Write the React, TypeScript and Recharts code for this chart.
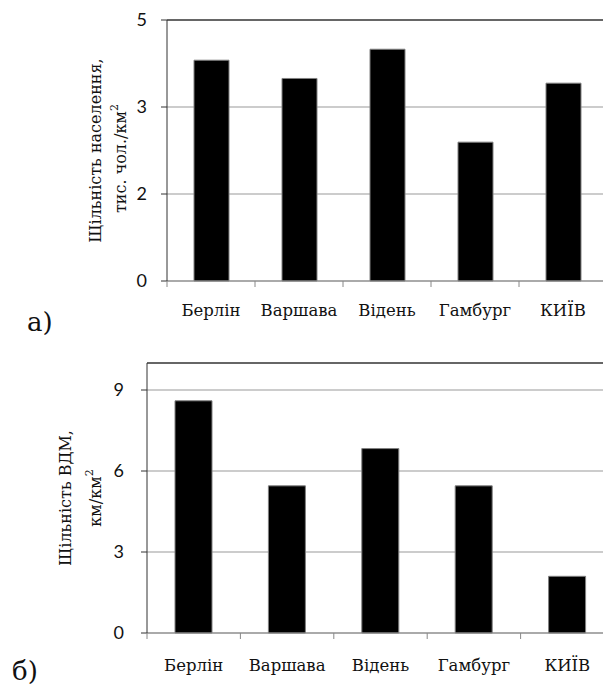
import { Bar, BarChart, CartesianGrid, ReferenceLine, XAxis, YAxis } from 'recharts'

// values
const CITIES = ['Берлін', 'Варшава', 'Відень', 'Гамбург', 'КИЇВ']
const POP_DENSITY = [4.23, 3.88, 4.44, 2.66, 3.79]
const POP_TICKS = [0, 5 / 3, 10 / 3, 5]
const ROAD_DENSITY = [8.6, 5.45, 6.83, 5.45, 2.1]
const ROAD_TICKS = [0, 3, 6, 9]

// only DejaVu Serif has Cyrillic serif glyphs in the sandbox
const SERIF = '"DejaVu Serif", serif'
const SANS = 'Lato, "Open Sans", sans-serif'
const INK = '#111'
const TICK_SIZE = 6
const TICK_MARGIN = 0
const X_AXIS_H = 40

interface TitleLine {
  text: string
  sup?: string
  dx: number
  dy: number
}

function AxisTitle({ viewBox, lines }: { viewBox?: any; lines: TitleLine[] }) {
  if (!viewBox) return null
  const cy = viewBox.y + viewBox.height / 2
  return (
    <g>
      {lines.map((ln, i) => {
        const tx = viewBox.x + ln.dx
        const ty = cy + ln.dy
        return (
          <text
            key={i}
            x={tx}
            y={ty}
            transform={`rotate(-90 ${tx} ${ty})`}
            textAnchor="middle"
            dominantBaseline="central"
            style={{ fontFamily: SERIF, fontSize: 16 }}
            fill={INK}
          >
            {ln.text}
            {ln.sup && (
              <tspan dy={-6} style={{ fontSize: 11 }}>
                {ln.sup}
              </tspan>
            )}
          </text>
        )
      })}
    </g>
  )
}

function CityTick(props: any) {
  const { x, y, payload, band, labelDy } = props
  const axisY = y - TICK_SIZE - TICK_MARGIN
  const edge = x - band / 2
  return (
    <g>
      <line x1={edge} x2={edge} y1={axisY} y2={axisY + 6} stroke="#888" />
      <text
        x={x}
        y={axisY + labelDy}
        textAnchor="middle"
        dominantBaseline="central"
        style={{ fontFamily: SERIF, fontSize: 16.5 }}
        fill={INK}
      >
        {payload.value}
      </text>
    </g>
  )
}

interface PanelProps {
  values: number[]
  max: number
  ticks: number[]
  top: number
  height: number
  margin: { top: number; right: number; bottom: number; left: number }
  yAxisWidth: number
  yTickMargin: number
  labelDy: number
  barSize: number
  title: TitleLine[]
}

const CHART_W = 640

function Panel({ values, max, ticks, top, height, margin, yAxisWidth, yTickMargin, labelDy, barSize, title }: PanelProps) {
  const data = CITIES.map((c, i) => ({ city: c, value: values[i] }))
  const plotW = CHART_W - margin.left - margin.right - yAxisWidth
  const band = plotW / CITIES.length
  return (
    <div style={{ position: 'absolute', left: 0, top }}>
      <BarChart width={CHART_W} height={height} data={data} margin={margin}>
        <CartesianGrid stroke="#999" vertical={false} />
        <XAxis
          dataKey="city"
          height={X_AXIS_H}
          axisLine={{ stroke: '#888' }}
          tickLine={false}
          tickSize={TICK_SIZE}
          tickMargin={TICK_MARGIN}
          interval={0}
          tick={(p: any) => <CityTick {...p} band={band} labelDy={labelDy} />}
        />
        <YAxis
          width={yAxisWidth}
          domain={[0, max]}
          ticks={ticks}
          allowDecimals
          tickFormatter={(v: number) => String(Math.round(v))}
          tick={{ fontFamily: SANS, fontSize: 18, fill: INK }}
          tickSize={TICK_SIZE}
          tickMargin={yTickMargin}
          axisLine={{ stroke: '#333' }}
          tickLine={{ stroke: '#333' }}
          label={{ content: (p: any) => <AxisTitle viewBox={p.viewBox} lines={title} /> }}
        />
        <ReferenceLine y={max} stroke="#444" strokeWidth={1.5} />
        <Bar
          dataKey="value"
          fill="#000"
          stroke="#808080"
          strokeWidth={1}
          barSize={barSize}
          isAnimationActive={false}
        />
      </BarChart>
    </div>
  )
}

const tagStyle = {
  position: 'absolute' as const,
  fontFamily: SERIF,
  fontSize: 26,
  lineHeight: '26px',
  color: INK,
}

export default function App() {
  return (
    <div
      style={{
        position: 'absolute',
        left: 0,
        top: 0,
        width: 603,
        height: 689,
        overflow: 'hidden',
        background: '#fff',
      }}
    >
      <Panel
        values={POP_DENSITY}
        max={5}
        ticks={POP_TICKS}
        top={0}
        height={340}
        margin={{ top: 20, right: 33, bottom: 19, left: 107 }}
        yAxisWidth={60}
        yTickMargin={14}
        labelDy={29}
        barSize={35}
        title={[
          { text: 'Щільність населення,', dx: -12, dy: 0 },
          { text: 'тис. чол./км', sup: '2', dx: 13, dy: 8 },
        ]}
      />
      <div style={{ ...tagStyle, left: 27, top: 309 }}>а)</div>
      <Panel
        values={ROAD_DENSITY}
        max={10}
        ticks={ROAD_TICKS}
        top={340}
        height={349}
        margin={{ top: 23, right: 26, bottom: 16, left: 87 }}
        yAxisWidth={60}
        yTickMargin={17}
        labelDy={32}
        barSize={37}
        title={[
          { text: 'Щільність ВДМ,', dx: -22, dy: 0 },
          { text: 'км/км', sup: '2', dx: 8, dy: 0 },
        ]}
      />
      <div style={{ ...tagStyle, left: 12, top: 658 }}>б)</div>
    </div>
  )
}
